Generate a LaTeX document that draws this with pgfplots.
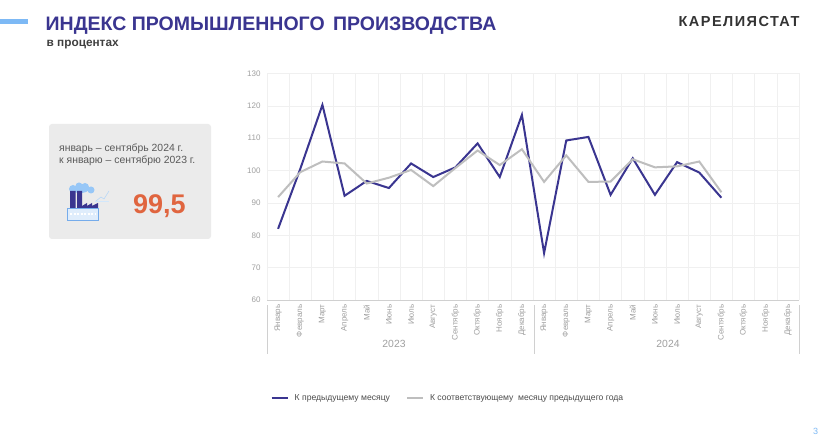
\documentclass[border=0pt]{standalone}
\usepackage{fontspec}
\setmainfont{Liberation Sans}
\newfontfamily\spaced[LetterSpace=10]{Liberation Sans}
\usepackage{pgfplots}
\pgfplotsset{compat=1.18}
\definecolor{navy}{HTML}{3A3590}
\definecolor{lgray}{HTML}{BEBEBE}
\definecolor{gridc}{HTML}{F0F0F0}
\definecolor{axc}{HTML}{D0D0D0}
\definecolor{txtc}{HTML}{A0A0A0}
\definecolor{skyb}{HTML}{7DB9F5}
\definecolor{panel}{HTML}{EBEBEB}
\definecolor{orangec}{HTML}{E0653F}
\begin{document}
\begin{tikzpicture}[x=1pt,y=1pt]
  % page, everything below is placed in pixels of the reference (y from bottom)
  \fill[white] (0,0) rectangle (832,432);
  \fill[skyb] (0,408) rectangle (28,413);
  \node[anchor=base west,inner sep=0pt,font=\bfseries\fontsize{19.5}{21}\selectfont,text=navy] at (45.5,401)
    {ИНДЕКС ПРОМЫШЛЕННОГО\hspace{3pt} ПРОИЗВОДСТВА};
  \node[anchor=base west,inner sep=0pt,font=\bfseries\fontsize{11.8}{13}\selectfont,text=black!75] at (46.5,385)
    {в процентах};
  \node[anchor=base west,inner sep=0pt,font=\spaced\bfseries\fontsize{14.5}{16}\selectfont,text=black!80] at (678.5,405)
    {КАРЕЛИЯСТАТ};
  % left panel
  \fill[panel,rounded corners=3pt] (49,193) rectangle (211,308);
  \node[anchor=base west,inner sep=0pt,font=\fontsize{10.4}{12}\selectfont,text=black!65] at (59,280)
    {январь – сентябрь 2024 г.};
  \node[anchor=base west,inner sep=0pt,font=\fontsize{10.4}{12}\selectfont,text=black!65] at (59,268)
    {к январю – сентябрю 2023 г.};
  \node[anchor=base west,inner sep=0pt,font=\bfseries\fontsize{27}{30}\selectfont,text=orangec] at (133,218)
    {99,5};
  % factory icon
  \fill[skyb!80] (73,243) circle (4) (79,246) circle (3.5) (85,245) circle (4) (91,242) circle (3.5) (80,242) ellipse (8 and 3);
  \fill[navy] (70,224) rectangle (75.5,241) (77,224) rectangle (82,241);
  \fill[navy] (82,224) -- (82,226) -- (87,229) -- (87,226) -- (92,229) -- (92,226) -- (98,229) -- (98,224) -- cycle;
  \draw[skyb!60,line width=.5pt] (96,231) -- (101,235) -- (104,233) -- (109,241);
  \draw[skyb!35,line width=.8pt] (95,231) -- (109,231);
  \draw[skyb!90!navy,fill=skyb!25,line width=.6pt] (67,212) rectangle (98,224);
  \draw[white,line width=1.2pt,dash pattern=on 2pt off 1.5pt] (70,218) -- (96,218);
  % year brackets
  \draw[axc,line width=.7pt] (267,78) -- (267,127) (534.5,78) -- (534.5,127) (799,78) -- (799,127);
  \node[font=\fontsize{10.4}{12}\selectfont,text=txtc] at (394,88) {2023};
  \node[font=\fontsize{10.4}{12}\selectfont,text=txtc] at (668,88) {2024};
  \begin{axis}[
    at={(267pt,132pt)},
    anchor=south west,
    scale only axis,
    width=532pt,
    height=226.5pt,
    xmin=-0.5, xmax=23.5,
    ymin=60, ymax=130,
    ytick={60,70,...,130},
    xtick={0,...,23},
    xticklabels={Январь,Февраль,Март,Апрель,Май,Июнь,Июль,Август,Сентябрь,Октябрь,Ноябрь,Декабрь,
                 Январь,Февраль,Март,Апрель,Май,Июнь,Июль,Август,Сентябрь,Октябрь,Ноябрь,Декабрь},
    minor xtick={-0.5,0.5,...,23.5},
    xminorgrids=true,
    ymajorgrids=true,
    grid style={gridc,line width=.6pt},
    minor grid style={gridc,line width=.6pt},
    major tick length=0pt,
    minor tick length=0pt,
    axis line style={draw=none},
    xticklabel style={rotate=90,anchor=east,font=\fontsize{8}{9}\selectfont,text=txtc,xshift=-1pt},
    yticklabel style={font=\fontsize{8}{9}\selectfont,text=txtc,xshift=-3pt},
    /pgf/number format/assume math mode=true,
    clip=false,
    legend style={
      at={(0.001,-0.434)},
      anchor=west,
      draw=none,
      fill=none,
      font=\fontsize{8.6}{10}\selectfont,
      text=black!70,
      legend columns=2,
      /tikz/column 1/.style={column sep=4pt},
      /tikz/column 2/.style={column sep=14pt},
      /tikz/column 3/.style={column sep=4pt},
    },
    legend cell align=left,
    legend image code/.code={
      \draw[#1] (0pt,0pt) -- (16pt,0pt);
    },
  ]
  \addplot[navy,line width=2pt] coordinates {
    (0,82) (1,100.5) (2,120.3) (3,92.2) (4,96.8) (5,94.6) (6,102.2) (7,98) (8,101) (9,108.4) (10,98) (11,117.2)
    (12,74.5) (13,109.3) (14,110.4) (15,92.5) (16,103.8) (17,92.5) (18,102.6) (19,99.4) (20,91.6)
  };
  \addplot[lgray,line width=2pt] coordinates {
    (0,91.8) (1,99.5) (2,102.8) (3,102.2) (4,96) (5,97.8) (6,100.2) (7,95.2) (8,100.8) (9,106.2) (10,101.7) (11,106.6)
    (12,96.5) (13,104.7) (14,96.5) (15,96.6) (16,103.5) (17,101) (18,101.3) (19,102.8) (20,93.3)
  };
  \legend{К предыдущему месяцу, К соответствующему\ \ месяцу предыдущего года}
  \draw[axc,line width=.8pt] (axis cs:-0.5,60) -- (axis cs:23.5,60);
  \end{axis}
  \node[font=\fontsize{9}{10}\selectfont,text=skyb] at (815.5,1) {3};
  \path[use as bounding box] (0,0) rectangle (832,432);
\end{tikzpicture}
\end{document}
